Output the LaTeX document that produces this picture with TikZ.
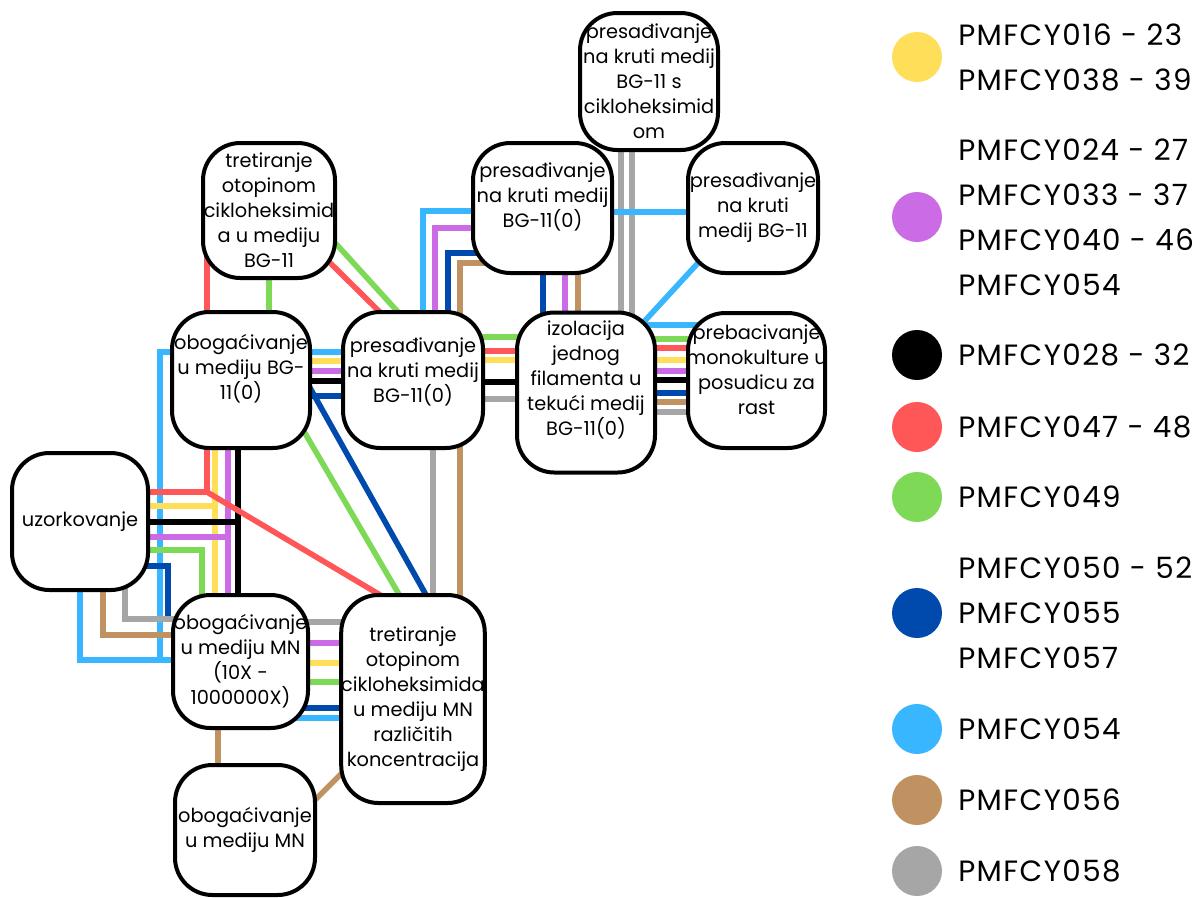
\documentclass[tikz,border=0pt]{standalone}
\usepackage{fontspec}
\setmainfont{Poppins}
\newfontfamily\legfont[LetterSpace=5]{Poppins}
\usetikzlibrary{calc,backgrounds}
\definecolor{cyel}{HTML}{FFDE59}
\definecolor{cpur}{HTML}{CB6CE6}
\definecolor{cred}{HTML}{FF5757}
\definecolor{cgrn}{HTML}{7ED957}
\definecolor{cdbl}{HTML}{004AAD}
\definecolor{clbl}{HTML}{38B6FF}
\definecolor{cbrn}{HTML}{C09262}
\definecolor{cgry}{HTML}{A6A6A6}

\begin{document}
\begin{tikzpicture}[x=0.75pt,y=-0.75pt,
    stage/.style={draw,line width=3pt,rounded corners=28pt,fill=white,inner sep=0pt,
        align=center,font=\fontsize{14.5}{18.75}\selectfont},
    txt/.style={inner sep=0pt,align=center,font=\fontsize{14.5}{18.75}\selectfont},
    conn/.style={line width=4.2pt},
    yline/.style={conn,draw=cyel},
    pline/.style={conn,draw=cpur},
    kline/.style={conn,draw=black},
    rline/.style={conn,draw=cred},
    gline/.style={conn,draw=cgrn},
    dline/.style={conn,draw=cdbl},
    bline/.style={conn,draw=clbl},
    nline/.style={conn,draw=cbrn},
    aline/.style={conn,draw=cgry},
    dot/.style={circle,fill=#1,minimum size=37.5pt,inner sep=0pt},
    legtxt/.style={anchor=west,align=left,inner sep=0pt,font=\legfont\fontsize{22}{33.75}\selectfont}]
    \useasboundingbox (0,0) rectangle (1203,897);

    % stages
    \node[stage,minimum width=102pt,minimum height=102.75pt] (uz) at (80,521.5) {uzorkovanje};
    \node[stage,minimum width=103.5pt,minimum height=102pt,
        label={[txt,yshift=8.6pt]center:{obogaćivanje\\u mediju BG-\\11(0)}}] (bgo) at (241,380) {};
    \node[stage,minimum width=101.25pt,minimum height=99.75pt] (mn10) at (240.5,661.5)
        {obogaćivanje\\u mediju MN\\(10X -\\1000000X)};
    \node[stage,minimum width=105pt,minimum height=97.5pt] (mnb) at (245,830)
        {obogaćivanje\\u mediju MN};
    \node[stage,minimum width=105pt,minimum height=156pt] (tmn) at (413,699)
        {tretiranje\\otopinom\\cikloheksimida\\u mediju MN\\različitih\\koncentracija};
    \node[stage,minimum width=99pt,minimum height=101.25pt] (tbg) at (269,210.5)
        {tretiranje\\otopinom\\cikloheksimid\\a u mediju\\BG-11};
    \node[stage,minimum width=105pt,minimum height=102pt,
        label={[txt,yshift=6.4pt]center:{presađivanje\\na kruti medij\\BG-11(0)}}] (psm) at (413,380) {};
    \node[stage,minimum width=104.25pt,minimum height=97.5pt,
        label={[txt,yshift=8.25pt]center:{presađivanje\\na kruti medij\\BG-11(0)}}] (pst) at (542.5,208) {};
    \node[stage,minimum width=103.5pt,minimum height=102.75pt] (psc) at (649,81.5)
        {presađivanje\\na kruti medij\\BG-11 s\\cikloheksimid\\om};
    \node[stage,minimum width=97.5pt,minimum height=97.5pt] (psr) at (753,208)
        {presađivanje\\na kruti\\medij BG-11};
    \node[stage,minimum width=103.5pt,minimum height=120pt,
        label={[txt,yshift=9.4pt]center:{izolacija\\jednog\\filamenta u\\tekući medij\\BG-11(0)}}] (izo) at (586,392.5) {};
    \node[stage,minimum width=102.75pt,minimum height=101.25pt,
        label={[txt,yshift=8.25pt]center:{prebacivanje\\monokulture u\\posudicu za\\rast}}] (preb) at (756.5,380.5) {};

    \coordinate (rj) at (207,492);
    \coordinate (lbj) at (641,325);

    \begin{pgfonlayer}{background}
    % PMFCY054
    \draw[bline] (uz) |- (mn10 |- 0,660);
    \draw[bline] (bgo |- 0,352) -| (160,660);
    \draw[bline] (bgo |- 0,352) -- (psm |- 0,352);
    \draw[bline] (423,0 |- psm) |- (pst |- 0,211);
    \draw[bline] (mn10 |- 0,718) -- (tmn |- 0,718);
    % PMFCY058
    \draw[aline] (125,0 |- uz) |- (mn10 |- 0,619);
    \draw[aline] (mn10 |- 0,622) -- (tmn |- 0,622);
    \draw[aline] (433,0 |- psm) -- (433,0 |- tmn);
    \draw[aline] (psm |- 0,399) -- (izo |- 0,399);
    \draw[aline] (izo |- 0,412) -- (preb |- 0,412);
    \draw[aline] (621,0 |- psc) -- (621,0 |- izo);
    \draw[aline] (632,0 |- psc) -- (632,0 |- izo);
    \draw[bline] (pst |- 0,212) -- (psr |- 0,212);
    \draw[bline] ($(psr)+(-55,55)$) -- (lbj) -- (preb |- lbj);
    % PMFCY056
    \draw[nline] (103,0 |- uz) |- (mn10 |- 0,635);
    \draw[nline] (460,0 |- psm) |- (pst |- 0,263);
    \draw[nline] (460,0 |- psm) -- (460,0 |- tmn);
    \draw[nline] (578,0 |- pst) -- (578,0 |- izo);
    \draw[nline] (izo |- 0,402) -- (preb |- 0,402);
    \draw[nline] (218,0 |- mn10) -- (218,0 |- mnb);
    \draw[nline] ($(mnb)+(50,-10)$) -- ($(tmn)+(-58,61)$);
    % PMFCY050 - 52, 055, 057
    \draw[dline] (uz |- 0,566) -| ($(mn10.north west)+(-3,23)$);
    \draw[dline] (bgo |- 0,396) -- (psm |- 0,396);
    \draw[dline] ($(bgo)+(64,-1)$) -- ($(tmn)+(17,-97)$);
    \draw[dline] (448,0 |- psm) |- (pst |- 0,253);
    \draw[dline] (543,0 |- pst) -- (543,0 |- izo);
    \draw[dline] (izo |- 0,393) -- (preb |- 0,393);
    \draw[dline] (mn10 |- 0,708) -- (tmn |- 0,708);
    % PMFCY049
    \draw[gline] (tbg) -- (tbg |- bgo);
    \draw[gline] ($(tbg)+(49,13.5)$) -- ($(psm)+(-5,-57)$);
    \draw[gline] (psm |- 0,337) -- (izo |- 0,337);
    \draw[gline] (izo |- 0,339) -- (preb |- 0,339);
    \draw[gline] (uz |- 0,550) -| (202,0 |- mn10);
    \draw[gline] ($(bgo)+(54,36)$) -- ($(tmn)+(-9,-96)$);
    \draw[gline] (mn10 |- 0,682) -- (tmn |- 0,682);
    % PMFCY016 - 23, 038 - 39
    \draw[yline] (uz |- 0,506) -- (215,506);
    \draw[yline] (215,0 |- bgo) -- (215,0 |- mn10);
    \draw[yline] (bgo |- 0,361) -- (psm |- 0,361);
    \draw[yline] (psm |- 0,360) -- (izo |- 0,360);
    \draw[yline] (izo |- 0,360) -- (preb |- 0,360);
    \draw[yline] (mn10 |- 0,663) -- (tmn |- 0,663);
    % PMFCY024 - 27, 033 - 37, 040 - 46, 054
    \draw[pline] (uz |- 0,537) -- (228,537);
    \draw[pline] (228,0 |- bgo) -- (228,0 |- mn10);
    \draw[pline] (bgo |- 0,371) -- (psm |- 0,371);
    \draw[pline] (435,0 |- psm) |- (pst |- 0,228);
    \draw[pline] (565,0 |- pst) -- (565,0 |- izo);
    \draw[pline] (izo |- 0,371) -- (preb |- 0,371);
    \draw[pline] (mn10 |- 0,643) -- (tmn |- 0,643);
    % PMFCY028 - 32
    \draw[kline] (uz |- 0,522) -- (238,522);
    \draw[kline] (238,0 |- bgo) -- (238,0 |- mn10);
    \draw[kline] (bgo |- 0,381) -- (psm |- 0,381);
    \draw[kline] (psm |- 0,382) -- (izo |- 0,382);
    \draw[kline] (izo |- 0,380) -- (preb |- 0,380);
    % PMFCY047 - 48
    \draw[rline] (207,0 |- tbg) -- (rj);
    \draw[rline] (uz |- rj) -- (rj) -- ($(tmn)+(-16,-94)$);
    \draw[rline] ($(tbg)+(41,32.5)$) -- ($(psm)+(-18,-53)$);
    \draw[rline] (psm |- 0,351) -- (izo |- 0,351);
    \draw[rline] (izo |- 0,348) -- (preb |- 0,348);
    \end{pgfonlayer}

    % legend
    \node[dot=cyel] (kyel) at (917,57) {};
    \node[legtxt] (tyel) at (958,57) {PMFCY016 - 23\\PMFCY038 - 39};
    \node[dot=cpur] (kpur) at (917,217) {};
    \node[legtxt] (tpur) at (958,217) {PMFCY024 - 27\\PMFCY033 - 37\\PMFCY040 - 46\\PMFCY054};
    \node[dot=black] (kblk) at (917,355) {};
    \node[legtxt] (tblk) at (958,355) {PMFCY028 - 32};
    \node[dot=cred] (kred) at (917,427) {};
    \node[legtxt] (tred) at (958,427) {PMFCY047 - 48};
    \node[dot=cgrn] (kgrn) at (917,497) {};
    \node[legtxt] (tgrn) at (958,497) {PMFCY049};
    \node[dot=cdbl] (kdbl) at (917,613) {};
    \node[legtxt] (tdbl) at (958,613) {PMFCY050 - 52\\PMFCY055\\PMFCY057};
    \node[dot=clbl] (klbl) at (917,729) {};
    \node[legtxt] (tlbl) at (958,729) {PMFCY054};
    \node[dot=cbrn] (kbrn) at (917,800) {};
    \node[legtxt] (tbrn) at (958,800) {PMFCY056};
    \node[dot=cgry] (kgry) at (917,871) {};
    \node[legtxt] (tgry) at (958,871) {PMFCY058};
\end{tikzpicture}
\end{document}
